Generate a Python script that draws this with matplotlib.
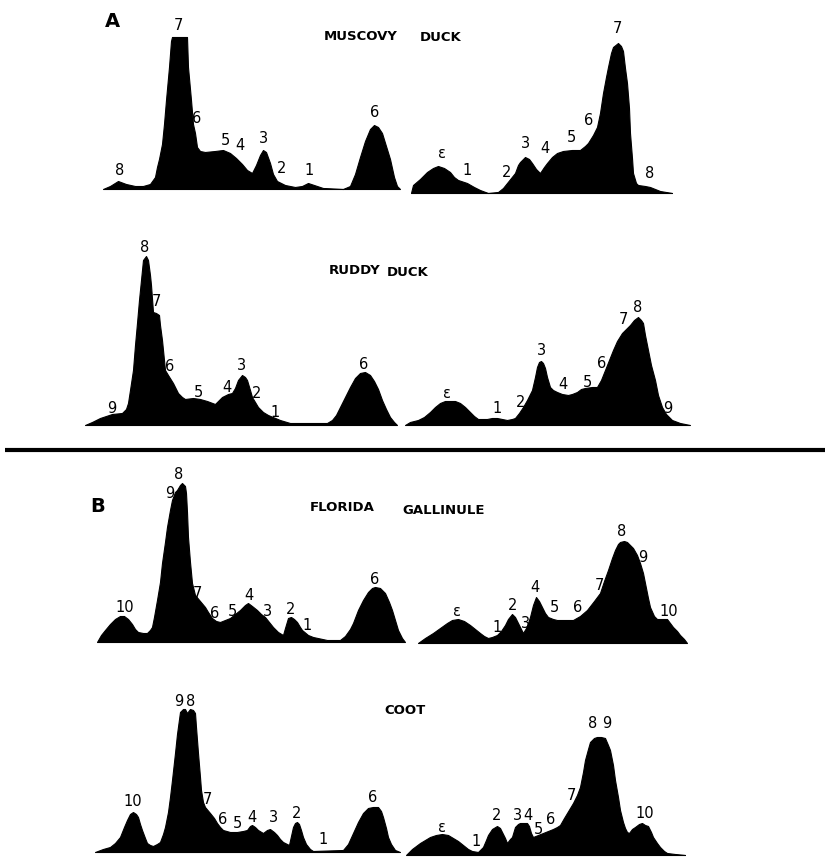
import matplotlib
matplotlib.use("Agg")
import matplotlib.pyplot as plt
import numpy as np

# ---- data: densitometer traces (position along strip, density height) ----
muscovy_left_x = [103,110,118,126,135,143,150,155,157,159,162,164,166,169,171,172,187,188,190,191,193,195,197,200,205,215,223,230,236,242,247,252,256,260,263,266,270,273,277,285,295,302,308,314,323,343,350,355,360,365,370,374,378,382,386,390,394,397,400]
muscovy_left_h = [0,3,8,5,3,3,5,12,22,30,45,65,89,122,148,152,152,122,100,89,65,56,42,38,37,38,39,36,31,25,19,16,24,34,39,37,26,15,8,4,2,3,6,4,1,0,3,15,32,48,60,64,62,56,43,30,12,3,0]
muscovy_left_lab = ["8","7","6","5","4","3","2","1","6"]
muscovy_left_lx = [120,178,197,225,240,263,282,309,375]
muscovy_left_ly = [19,164,71,49,44,51,21,19,77]

muscovy_right_x = [411,413,420,427,433,438,444,450,454,458,467,474,480,488,498,503,507,511,515,518,520,525,529,532,536,540,544,547,552,557,563,572,580,585,588,593,597,600,603,606,608,611,613,618,621,623,625,627,629,630,632,633,636,638,645,650,655,660,666,672]
muscovy_right_h = [0,8,14,21,25,27,25,21,16,13,10,6,3,0,1,5,10,15,20,28,31,36,34,30,24,20,26,30,36,40,42,43,43,47,50,58,66,80,100,116,126,140,146,150,147,142,125,110,85,60,35,20,10,8,7,6,4,2,1,0]
muscovy_right_lab = ["\u03b5","1","2","3","4","5","6","7","8"]
muscovy_right_lx = [442,467,507,525,545,571,589,617,650]
muscovy_right_ly = [40,23,21,50,45,56,73,165,20]

ruddy_left_x = [85,92,100,112,122,126,128,130,133,135,137,139,141,143,146,148,150,151,153,156,159,160,162,164,165,168,173,178,182,185,193,200,207,215,222,228,232,235,238,242,245,247,250,252,258,263,268,280,290,300,327,332,336,340,345,350,355,360,365,370,374,378,382,386,390,394,397]
ruddy_left_h = [0,3,7,11,12,16,22,35,55,80,102,125,145,165,169,165,150,140,113,112,110,100,85,65,55,50,42,32,28,26,27,26,24,21,28,31,32,37,45,50,48,45,35,28,18,13,10,5,2,2,2,5,10,18,28,38,47,52,53,50,44,36,25,16,8,3,0]
ruddy_left_lab = ["9","8","7","6","5","4","3","2","1","6"]
ruddy_left_lx = [112,145,156,170,198,227,241,257,275,364]
ruddy_left_ly = [17,178,123,59,33,38,60,32,13,61]

ruddy_right_x = [405,410,418,424,430,435,440,445,450,455,460,465,470,474,478,487,492,497,502,507,512,515,519,523,527,530,532,535,537,539,541,543,545,547,550,553,557,562,568,572,577,581,585,592,597,601,605,609,613,617,622,626,630,634,638,641,643,645,648,651,655,658,662,666,672,680,690]
ruddy_right_h = [0,3,5,8,13,18,22,24,24,24,22,18,13,9,6,6,7,7,6,5,6,7,12,18,25,31,35,48,58,63,64,62,57,48,38,35,33,31,30,31,33,36,37,38,38,45,55,65,75,84,92,96,100,105,108,105,102,90,75,60,45,30,18,11,5,2,0]
ruddy_right_lab = ["\u03b5","1","2","3","4","5","6","7","8","9"]
ruddy_right_lx = [447,497,521,542,563,587,602,623,638,668]
ruddy_right_ly = [32,17,23,75,41,43,62,106,117,17]

florida_left_x = [97,101,105,110,115,120,124,128,132,135,138,143,147,150,152,154,157,160,162,165,167,170,172,175,177,180,182,185,186,187,188,190,192,195,200,205,208,212,216,220,225,230,235,240,245,248,252,257,261,265,269,273,278,283,285,288,291,294,297,300,302,308,313,327,340,345,350,353,358,363,368,372,375,380,385,389,392,395,398,402,405]
florida_left_h = [0,7,12,18,23,26,26,23,18,13,10,9,9,12,15,25,42,60,79,100,115,132,142,150,152,157,159,156,149,130,105,80,59,47,41,35,30,24,21,20,22,24,28,32,37,39,36,32,28,25,20,15,10,7,14,24,25,23,20,15,12,7,5,2,2,6,13,19,32,42,50,54,55,54,49,40,32,22,12,4,0]
florida_left_lab = ["10","9","8","7","6","5","4","3","2","1","6"]
florida_left_lx = [125,170,179,197,215,232,249,268,291,307,375]
florida_left_ly = [34,149,168,49,29,31,46,30,32,17,62]

florida_right_x = [418,425,433,440,447,452,458,464,470,475,480,484,488,492,497,501,505,508,512,515,518,521,523,526,528,530,533,536,539,542,545,548,553,557,565,573,580,587,594,600,604,608,612,615,618,620,624,627,630,633,637,640,643,645,648,650,654,657,662,667,670,673,677,680,684,687]
florida_right_h = [0,5,10,15,20,23,24,22,18,14,10,7,5,6,8,12,18,24,29,26,20,14,10,15,20,26,38,46,42,36,30,26,24,23,23,23,27,33,42,50,62,73,85,93,99,101,102,101,98,95,88,80,70,60,45,36,27,24,24,24,20,16,12,8,4,0]
florida_right_lab = ["\u03b5","1","2","3","4","5","6","7","8","9","10"]
florida_right_lx = [457,497,513,525,535,554,578,599,622,643,669]
florida_right_ly = [31,16,38,20,56,35,35,58,111,86,31]

coot_left_x = [95,103,110,115,120,124,127,130,133,136,138,140,142,145,147,150,153,157,160,163,165,168,170,172,175,177,180,183,185,187,190,193,195,196,198,200,201,203,205,210,214,217,220,223,230,237,243,247,250,252,255,258,263,267,270,274,277,280,283,289,291,293,295,297,299,301,303,306,310,313,343,348,353,358,363,368,373,378,381,383,386,388,391,395,400]
coot_left_h = [0,3,5,9,15,25,32,38,40,38,35,28,22,14,9,7,6,8,10,18,25,40,55,72,99,118,140,143,143,139,143,142,139,125,99,75,62,50,45,39,34,29,25,22,20,20,21,22,26,27,25,22,19,22,23,20,17,13,10,7,16,25,29,30,28,22,15,8,3,1,2,8,19,30,39,44,45,45,41,35,24,15,8,2,0]
coot_left_lab = ["10","9","8","7","6","5","4","3","2","1","6"]
coot_left_lx = [133,179,191,207,223,237,252,273,297,323,373]
coot_left_ly = [50,150,150,52,32,29,35,35,38,12,54]

coot_right_x = [406,408,412,416,420,425,430,436,442,448,453,458,463,468,472,478,480,483,486,488,492,497,500,502,505,507,510,512,515,518,520,527,529,531,533,538,543,548,553,557,560,564,567,570,573,577,580,583,585,588,590,594,597,601,605,608,610,613,615,618,620,623,625,627,629,632,635,639,642,645,648,651,653,657,660,664,667,675,685]
coot_right_h = [0,2,6,9,12,15,18,20,21,20,17,14,10,6,4,3,5,8,15,20,26,29,27,23,17,12,16,18,28,31,32,32,29,22,18,20,22,24,26,28,30,37,42,47,52,60,68,83,95,106,113,117,118,118,117,110,105,90,75,58,45,33,27,23,22,26,28,31,32,30,29,23,18,12,8,4,2,1,0]
coot_right_lab = ["\u03b5","1","2","3","4","5","6","7","8","9","10"]
coot_right_lx = [442,476,497,518,528,538,551,571,593,607,645]
coot_right_ly = [28,13,40,40,39,26,35,59,132,132,42]

title_words = ["MUSCOVY", "DUCK", "RUDDY", "DUCK", "FLORIDA", "GALLINULE", "COOT"]
section_letters = ["A", "B"]

# ---- layout ----
W, H = 825, 857
fig = plt.figure(figsize=(W / 100, H / 100), dpi=100)
ax = fig.add_axes([0, 0, 1, 1])
ax.set_xlim(0, W)
ax.set_ylim(H, 0)
ax.axis("off")

traces = [
    (muscovy_left_x, muscovy_left_h, muscovy_left_lab, muscovy_left_lx, muscovy_left_ly, 189),
    (muscovy_right_x, muscovy_right_h, muscovy_right_lab, muscovy_right_lx, muscovy_right_ly, 193),
    (ruddy_left_x, ruddy_left_h, ruddy_left_lab, ruddy_left_lx, ruddy_left_ly, 425),
    (ruddy_right_x, ruddy_right_h, ruddy_right_lab, ruddy_right_lx, ruddy_right_ly, 425),
    (florida_left_x, florida_left_h, florida_left_lab, florida_left_lx, florida_left_ly, 642),
    (florida_right_x, florida_right_h, florida_right_lab, florida_right_lx, florida_right_ly, 643),
    (coot_left_x, coot_left_h, coot_left_lab, coot_left_lx, coot_left_ly, 852),
    (coot_right_x, coot_right_h, coot_right_lab, coot_right_lx, coot_right_ly, 855),
]

for xs, hs, labs, lx, ly, base in traces:
    xs = np.asarray(xs, float)
    hs = np.asarray(hs, float)
    ax.fill_between(xs, base, base - hs, color="black", linewidth=0.8,
                    edgecolor="black")
    for t, x, y in zip(labs, lx, ly):
        ax.text(x, base - y, t, ha="center", va="center", fontsize=10.5,
                family="DejaVu Sans", color="black")

word_pos = [(361, 36), (441, 37), (355, 271), (408, 272),
            (342, 507), (444, 510), (405, 711)]
for t, (x, y) in zip(title_words, word_pos):
    ax.text(x, y, t, ha="center", va="center", fontsize=9.5,
            fontweight="heavy", family="DejaVu Sans")

for t, (x, y) in zip(section_letters, [(112, 21), (98, 507)]):
    ax.text(x, y, t, ha="center", va="center", fontsize=14,
            fontweight="bold", family="DejaVu Sans")

ax.plot([5, 825], [450, 450], color="black", linewidth=3, solid_capstyle="butt")

fig.savefig("out.png", dpi=100)
